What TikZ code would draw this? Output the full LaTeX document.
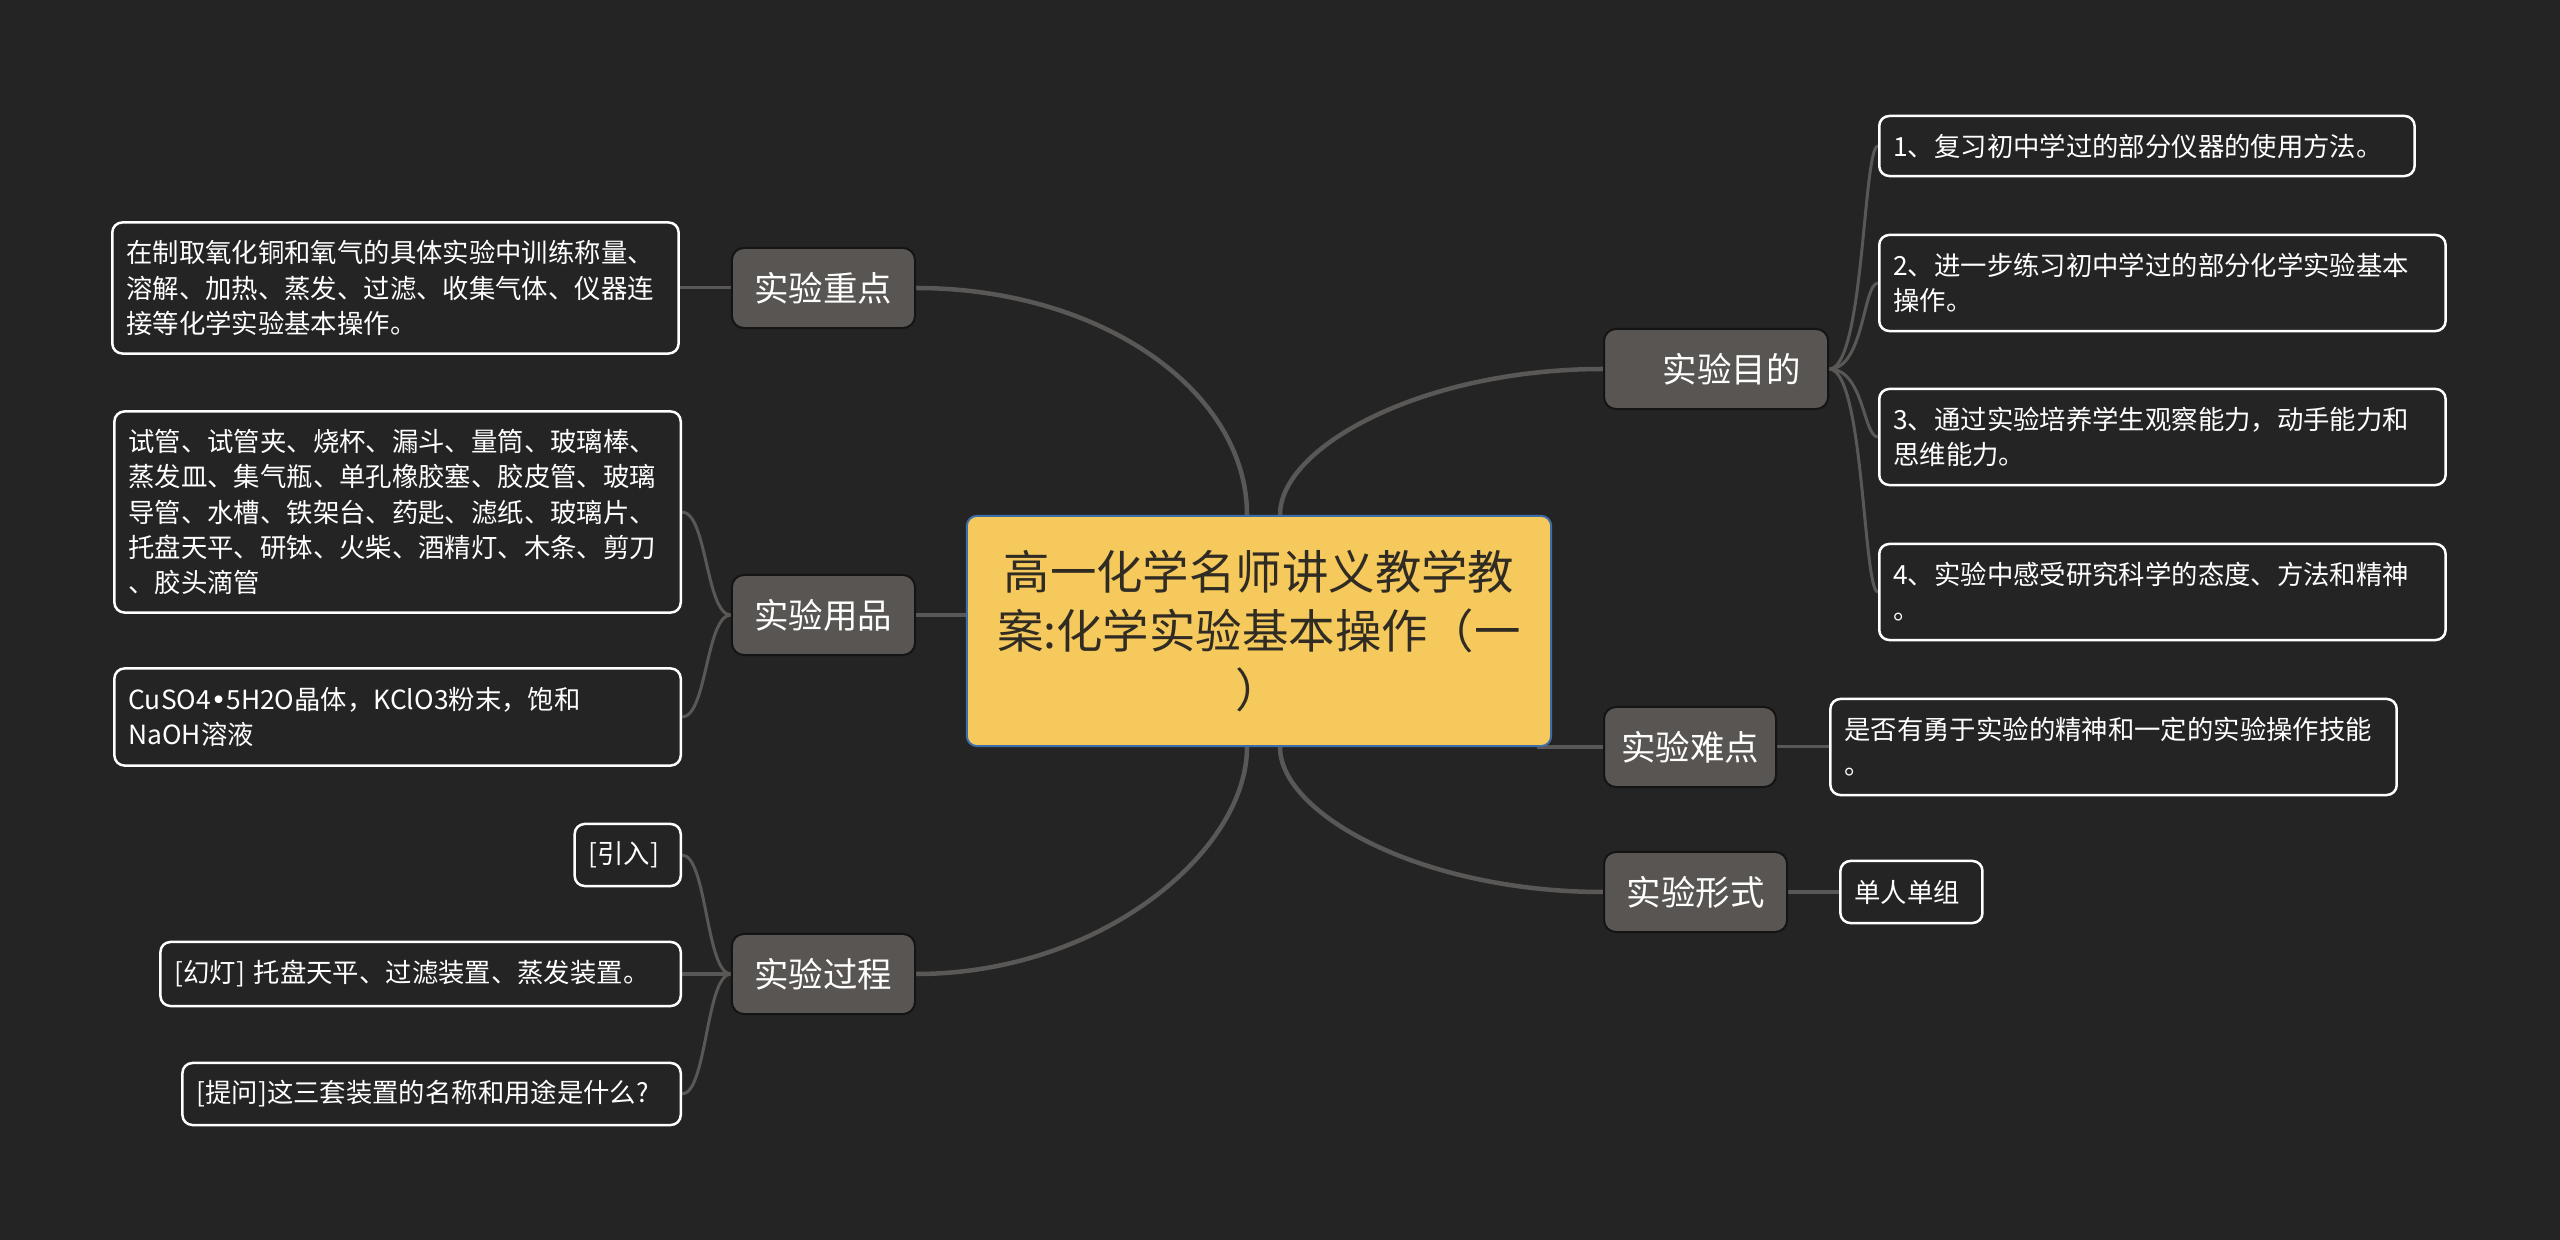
\documentclass[tikz,border=0pt]{standalone}
\usepackage{fontspec}
\newfontfamily\cjk{Noto Sans CJK SC}
\newfontfamily\symfont{DejaVu Sans}
\usetikzlibrary{positioning, calc, backgrounds}
\definecolor{bgdark}{RGB}{36,36,36}
\definecolor{titleyellow}{RGB}{245,201,92}
\definecolor{titleblue}{RGB}{62,110,170}
\definecolor{titletext}{RGB}{48,44,36}
\definecolor{branchgray}{RGB}{89,85,82}
\definecolor{branchedge}{RGB}{20,20,20}
\definecolor{linkgray}{RGB}{90,88,86}

\begin{document}
\begin{tikzpicture}[
  x=0.01cm, y=-0.01cm,
  topic/.style={rectangle, rounded corners=0.1cm, draw=titleblue, line width=0.02cm,
               fill=titleyellow, text=titletext, align=center,
               minimum width=5.84cm, minimum height=2.3cm,
               font=\cjk\fontsize{13.2pt}{16.7pt}\selectfont},
  branch/.style={rectangle, rounded corners=0.12cm, draw=branchedge, line width=0.02cm,
               fill=branchgray, text=white, inner xsep=0pt, minimum height=0.8cm,
               font=\cjk\fontsize{9.8pt}{12pt}\selectfont},
  leaf/.style={rectangle, rounded corners=0.1cm, draw=white, line width=0.025cm,
               fill=bgdark, text=white, align=left, inner xsep=0.14cm,
               font=\cjk\fontsize{7.5pt}{10pt}\selectfont},
  mainlink/.style={draw=linkgray, line width=0.045cm},
  leaflink/.style={draw=linkgray, line width=0.03cm}
]
  \useasboundingbox (0,0) rectangle (2560,1240);

  \node[topic] (c) at (1259,631)
    {高一化学名师讲义教学教\\案:化学实验基本操作（一\\）};

  \node[branch, minimum width=1.83cm, anchor=east] (zd) at (916,288) {实验重点};
  \node[branch, minimum width=1.83cm, anchor=east] (yp) at (916,615) {实验用品};
  \node[branch, minimum width=1.83cm, anchor=east] (gc) at (916,974) {实验过程};
  \node[branch, minimum width=2.24cm, anchor=west] (md) at (1603,369) {\hspace*{0.31cm}实验目的};
  \node[branch, minimum width=1.72cm, anchor=west] (nd) at (1603,747) {实验难点};
  \node[branch, minimum width=1.83cm, anchor=west] (xs) at (1603,892) {实验形式};

  \node[leaf, text width=5.38cm, minimum height=1.31cm, left=0.51cm of zd] (l1)
    {在制取氧化铜和氧气的具体实验中训练称量、\\溶解、加热、蒸发、过滤、收集气体、仪器连\\接等化学实验基本操作。};
  \node[leaf, text width=5.38cm, minimum height=2.01cm, anchor=east] (l2) at (682,512)
    {试管、试管夹、烧杯、漏斗、量筒、玻璃棒、\\蒸发皿、集气瓶、单孔橡胶塞、胶皮管、玻璃\\导管、水槽、铁架台、药匙、滤纸、玻璃片、\\托盘天平、研钵、火柴、酒精灯、木条、剪刀\\、胶头滴管};
  \node[leaf, text width=5.38cm, minimum height=0.97cm, anchor=east] (l3) at (682,717)
    {CuSO4{\symfont •}5H2O晶体，KClO3粉末，饱和\\NaOH溶液};
  \node[leaf, text width=0.78cm, minimum height=0.62cm, anchor=east] (l4) at (682,855)
    {[引入]};
  \node[leaf, text width=4.92cm, minimum height=0.64cm, anchor=east] (l5) at (682,974)
    {[幻灯] 托盘天平、过滤装置、蒸发装置。};
  \node[leaf, text width=4.70cm, minimum height=0.62cm, anchor=east] (l6) at (682,1094)
    {[提问]这三套装置的名称和用途是什么?};

  \node[leaf, text width=5.07cm, minimum height=0.60cm, anchor=west] (r1) at (1878,146)
    {1、复习初中学过的部分仪器的使用方法。};
  \node[leaf, text width=5.38cm, minimum height=0.96cm, anchor=west] (r2) at (1878,283)
    {2、进一步练习初中学过的部分化学实验基本\\操作。};
  \node[leaf, text width=5.38cm, minimum height=0.96cm, anchor=west] (r3) at (1878,437)
    {3、通过实验培养学生观察能力，动手能力和\\思维能力。};
  \node[leaf, text width=5.38cm, minimum height=0.96cm, anchor=west] (r4) at (1878,592)
    {4、实验中感受研究科学的态度、方法和精神\\。};
  \node[leaf, text width=5.38cm, minimum height=0.96cm, right=0.52cm of nd] (r5)
    {是否有勇于实验的精神和一定的实验操作技能\\。};
  \node[leaf, text width=1.14cm, minimum height=0.62cm, right=0.51cm of xs] (r6)
    {单人单组};

  \begin{scope}[on background layer]
    \fill[bgdark] (0,0) rectangle (2560,1240);
    \draw[mainlink] (zd.east) .. controls +(185,0) and +(0,-124) .. ($(c.north)+(-12,0)$);
    \draw[mainlink] (yp.east) -- (yp.east -| c.center);
    \draw[mainlink] (gc.east) .. controls +(185,0) and +(0,104) .. ($(c.south)+(-12,0)$);
    \draw[mainlink] ($(c.north)+(21,0)$) .. controls +(0,-68) and +(-181,0) .. (md.west);
    \draw[mainlink] ($(nd.west -| c.east)+(-15,0)$) -- (nd.west);
    \draw[mainlink] ($(c.south)+(21,0)$) .. controls +(0,67) and +(-181,0) .. (xs.west);

    \draw[leaflink] (zd.west) -- (l1.east);
    \foreach \b in {l2,l3}
      \draw[leaflink] (yp.west) .. controls +(-25,0) and +(25,0) .. (\b.east);
    \foreach \b in {l4,l5,l6}
      \draw[leaflink] (gc.west) .. controls +(-25,0) and +(25,0) .. (\b.east);
    \foreach \b in {r1,r2,r3,r4}
      \draw[leaflink] (md.east) .. controls +(35,0) and +(-15,0) .. (\b.west);
    \draw[leaflink] (nd.east) -- (r5.west);
    \draw[leaflink] (xs.east) -- (r6.west);
  \end{scope}
\end{tikzpicture}
\end{document}
